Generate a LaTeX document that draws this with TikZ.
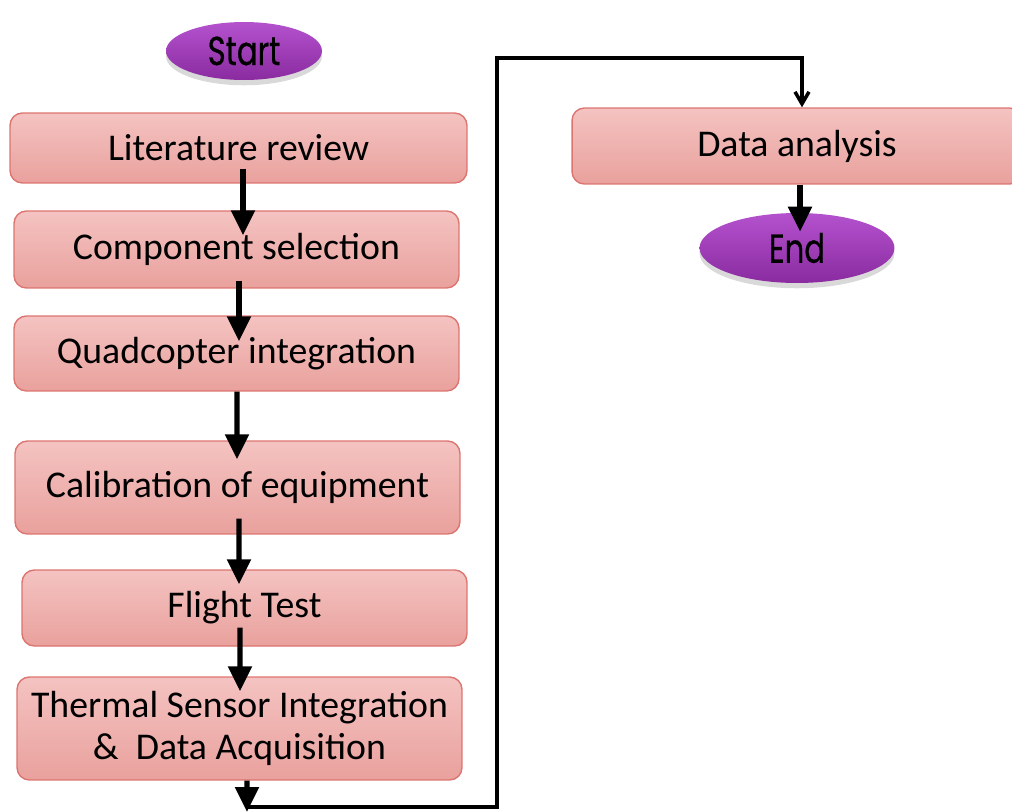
\documentclass[tikz,border=0pt]{standalone}
\usepackage{fontspec}
\setmainfont{Carlito}
\newfontfamily\roundfont[FakeBold=0.6]{Poppins}
\usepackage{xcolor}
\definecolor{boxtop}{HTML}{F4C3C1}
\definecolor{boxbot}{HTML}{E9A19D}
\definecolor{boxline}{HTML}{DC7470}
\definecolor{termtop}{HTML}{B452CE}
\definecolor{termbot}{HTML}{8A2BA0}
\usepackage{tikz}
\usetikzlibrary{arrows.meta,positioning,calc,shapes.geometric,shadows}

\tikzset{
  stepbox/.style={draw=boxline,line width=0.8pt,rounded corners=7pt,
    top color=boxtop,bottom color=boxbot,minimum width=8.9cm,
    font=\fontsize{21.5}{24}\selectfont,align=center,inner sep=2pt},
  termnode/.style={ellipse,top color=termtop,bottom color=termbot,
    drop shadow={opacity=0.3,shadow xshift=0pt,shadow yshift=-3pt},
    font=\roundfont\fontsize{23}{26}\selectfont,inner sep=0pt},
  flowarrow/.style={line width=3pt,-{Triangle[length=0.5cm,width=0.46cm]}},
  loopline/.style={line width=2pt},
}

\begin{document}
\begin{tikzpicture}[x=0.02cm,y=-0.02cm,>=Latex]
  \useasboundingbox (0,0) rectangle (1012,812);
  % left column
  \node[termnode,minimum width=3.12cm,minimum height=1.16cm] (start) at (244,51) {\scalebox{0.76}[1]{Start}};
  \node[stepbox,minimum width=9.14cm,minimum height=1.4cm] (lit) at (238.5,148) {Literature review};
  \node[stepbox,minimum height=1.54cm] (comp) at (236.5,249.5) {Component selection};
  \node[stepbox,minimum height=1.5cm] (quad) at (236.5,353.5) {Quadcopter integration};
  \node[stepbox,minimum height=1.86cm] (calib) at (237.5,487.5) {Calibration of equipment};
  \node[stepbox,minimum height=1.52cm] (flight) at (244.5,608) {Flight Test};
  \node[stepbox,minimum height=2.06cm] (thermal) at (239.5,728.5) {Thermal Sensor Integration\\ \&\ \ Data Acquisition};
  % right column
  \node[stepbox,minimum width=9cm,minimum height=1.52cm] (data) at (797,146) {Data analysis};
  \node[termnode,minimum width=3.9cm,minimum height=1.4cm] (endn) at (797,248) {\scalebox{0.76}[1]{End}};

  \draw[flowarrow] ([shift={(4.5,-15)}]lit.south) -- ([shift={(6.5,25)}]comp.north);
  \draw[flowarrow] ([shift={(2.5,-8)}]comp.south) -- ([shift={(2.5,26)}]quad.north);
  \draw[flowarrow] ([shift={(0.5,0)}]quad.south) -- ([shift={(-0.5,19)}]calib.north);
  \draw[flowarrow] ([shift={(1.5,-16)}]calib.south) -- ([shift={(-5.5,15)}]flight.north);
  \draw[flowarrow] ([shift={(-4.5,-19)}]flight.south) -- ([shift={(0.5,15)}]thermal.north);

  \coordinate (bend) at (247,812);
  \draw[flowarrow] ([shift={(7.5,0)}]thermal.south) -- (bend);
  \draw[loopline,-{Straight Barb[length=0.24cm,width=0.28cm]}] ([yshift=0.1cm]bend) -| (497,58) -| ([xshift=0.1cm]data.north);

  \draw[flowarrow] ([shift={(3,0)}]data.south) -- ([shift={(3,19)}]endn.north);
\end{tikzpicture}
\end{document}
